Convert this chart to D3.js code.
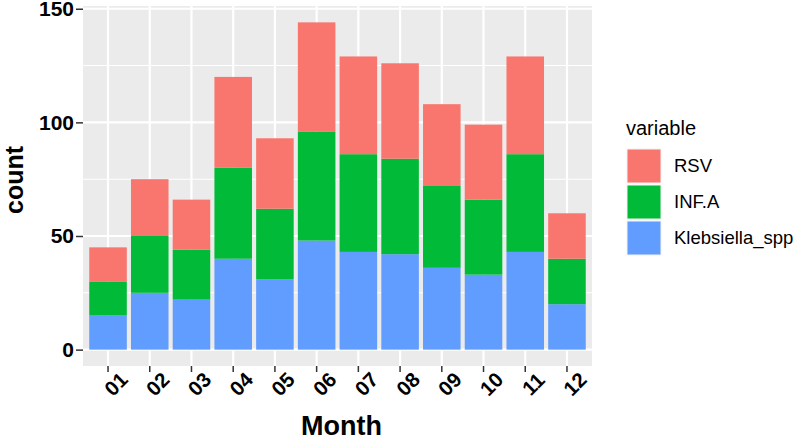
<!DOCTYPE html>
<html>
<head>
<meta charset="utf-8">
<script src="https://cdn.jsdelivr.net/npm/d3@7"></script>
<style>
    body { margin: 0; background: #fff; }
    svg { display: block; font-family: "Liberation Sans", Arial, Helvetica, sans-serif; }
</style>
</head>
<body>
<svg id="chart" width="794" height="440"></svg>
<script>
// monthly counts
const months = ["01", "02", "03", "04", "05", "06", "07", "08", "09", "10", "11", "12"];
const klebsiella = [15, 25, 22, 40, 31, 48, 43, 42, 36, 33, 43, 20];
const infA = [15, 25, 22, 40, 31, 48, 43, 42, 36, 33, 43, 20];
const rsv = [15, 25, 22, 40, 31, 48, 43, 42, 36, 33, 43, 20];
const yTicks = [0, 50, 100, 150];
const yMinor = [25, 75, 125];

const seriesKeys = ["Klebsiella_spp", "INF.A", "RSV"];   // bottom -> top
const legendKeys = ["RSV", "INF.A", "Klebsiella_spp"];
const colors = { "RSV": "#F8766D", "INF.A": "#00BA38", "Klebsiella_spp": "#619CFF" };

const rows = months.map(function (m, i) {
    return { month: m, "Klebsiella_spp": klebsiella[i], "INF.A": infA[i], "RSV": rsv[i] };
});

const svg = d3.select("#chart"),
    panel = { left: 83, right: 592, top: 6, bottom: 366 };

const maxTotal = d3.max(rows, function (d) { return d["Klebsiella_spp"] + d["INF.A"] + d["RSV"]; });
const pad = maxTotal * 0.05;

const x = d3.scaleBand()
    .domain(months)
    .range([panel.left, panel.right])
    .paddingInner(0.1)
    .paddingOuter(0.15);

const y = d3.scaleLinear()
    .domain([-pad, maxTotal + pad])
    .range([panel.bottom, panel.top]);

// panel background
svg.append("rect")
    .attr("x", panel.left)
    .attr("y", panel.top)
    .attr("width", panel.right - panel.left)
    .attr("height", panel.bottom - panel.top)
    .attr("fill", "#EBEBEB");

// grid
svg.append("g").selectAll("line")
    .data(yMinor)
    .join("line")
    .attr("x1", panel.left).attr("x2", panel.right)
    .attr("y1", function (d) { return y(d); })
    .attr("y2", function (d) { return y(d); })
    .attr("stroke", "#fff")
    .attr("stroke-width", 1.1);

svg.append("g").selectAll("line")
    .data(yTicks)
    .join("line")
    .attr("x1", panel.left).attr("x2", panel.right)
    .attr("y1", function (d) { return y(d); })
    .attr("y2", function (d) { return y(d); })
    .attr("stroke", "#fff")
    .attr("stroke-width", 2.2);

svg.append("g").selectAll("line")
    .data(months)
    .join("line")
    .attr("x1", function (d) { return x(d) + x.bandwidth() / 2; })
    .attr("x2", function (d) { return x(d) + x.bandwidth() / 2; })
    .attr("y1", panel.top).attr("y2", panel.bottom)
    .attr("stroke", "#fff")
    .attr("stroke-width", 2.2);

// stacked bars
const stacked = d3.stack().keys(seriesKeys)(rows);

svg.append("g").selectAll("g")
    .data(stacked)
    .join("g")
    .attr("fill", function (s) { return colors[s.key]; })
    .selectAll("rect")
    .data(function (s) { return s; })
    .join("rect")
    .attr("x", function (d) { return x(d.data.month); })
    .attr("width", x.bandwidth())
    .attr("y", function (d) { return y(d[1]); })
    .attr("height", function (d) { return y(d[0]) - y(d[1]); });

// y axis
const yAxis = svg.append("g")
    .attr("transform", "translate(" + panel.left + ",0)")
    .call(d3.axisLeft(y).tickValues(yTicks).tickSize(7).tickPadding(2));
yAxis.select(".domain").remove();
yAxis.selectAll(".tick line").attr("stroke", "#333").attr("stroke-width", 1.5);
yAxis.selectAll(".tick text")
    .attr("fill", "#000")
    .attr("font-size", "21px")
    .attr("font-weight", "bold")
    .attr("font-family", "'Liberation Sans', Arial, sans-serif");

// x axis
const xAxis = svg.append("g")
    .attr("transform", "translate(0," + panel.bottom + ")")
    .call(d3.axisBottom(x).tickSize(6).tickFormat(""));
xAxis.select(".domain").remove();
xAxis.selectAll(".tick line").attr("stroke", "#333").attr("stroke-width", 1.5);

svg.append("g").selectAll("text")
    .data(months)
    .join("text")
    .attr("transform", function (d) {
        return "translate(" + (x(d) + x.bandwidth() / 2 + 8) + "," + 384 + ") rotate(-45)";
    })
    .attr("text-anchor", "middle")
    .attr("dy", "0.35em")
    .attr("font-size", "20.5px")
    .attr("font-weight", "bold")
    .attr("fill", "#000")
    .text(function (d) { return d; });

// axis titles
svg.append("text")
    .attr("x", (panel.left + panel.right) / 2 + 4)
    .attr("y", 435)
    .attr("text-anchor", "middle")
    .attr("font-size", "27px")
    .attr("font-weight", "bold")
    .attr("fill", "#000")
    .text("Month");

svg.append("text")
    .attr("transform", "translate(23," + ((panel.top + panel.bottom) / 2 - 6) + ") rotate(-90)")
    .attr("text-anchor", "middle")
    .attr("font-size", "25px")
    .attr("font-weight", "bold")
    .attr("fill", "#000")
    .text("count");

// legend
const legend = svg.append("g").attr("transform", "translate(626,0)");

legend.append("text")
    .attr("x", 0)
    .attr("y", 135)
    .attr("font-size", "20px")
    .attr("fill", "#000")
    .text("variable");

const item = legend.selectAll(".item")
    .data(legendKeys)
    .join("g")
    .attr("class", "item")
    .attr("transform", function (d, i) { return "translate(0," + (148 + i * 36) + ")"; });

item.append("rect")
    .attr("x", 1).attr("y", 1)
    .attr("width", 34).attr("height", 34)
    .attr("fill", function (d) { return colors[d]; })
    .attr("stroke", "#f2f2f2")
    .attr("stroke-width", 1);

item.append("text")
    .attr("x", 48)
    .attr("y", 18)
    .attr("dy", "0.35em")
    .attr("font-size", "18.5px")
    .attr("fill", "#000")
    .text(function (d) { return d; });
</script>
</body>
</html>
